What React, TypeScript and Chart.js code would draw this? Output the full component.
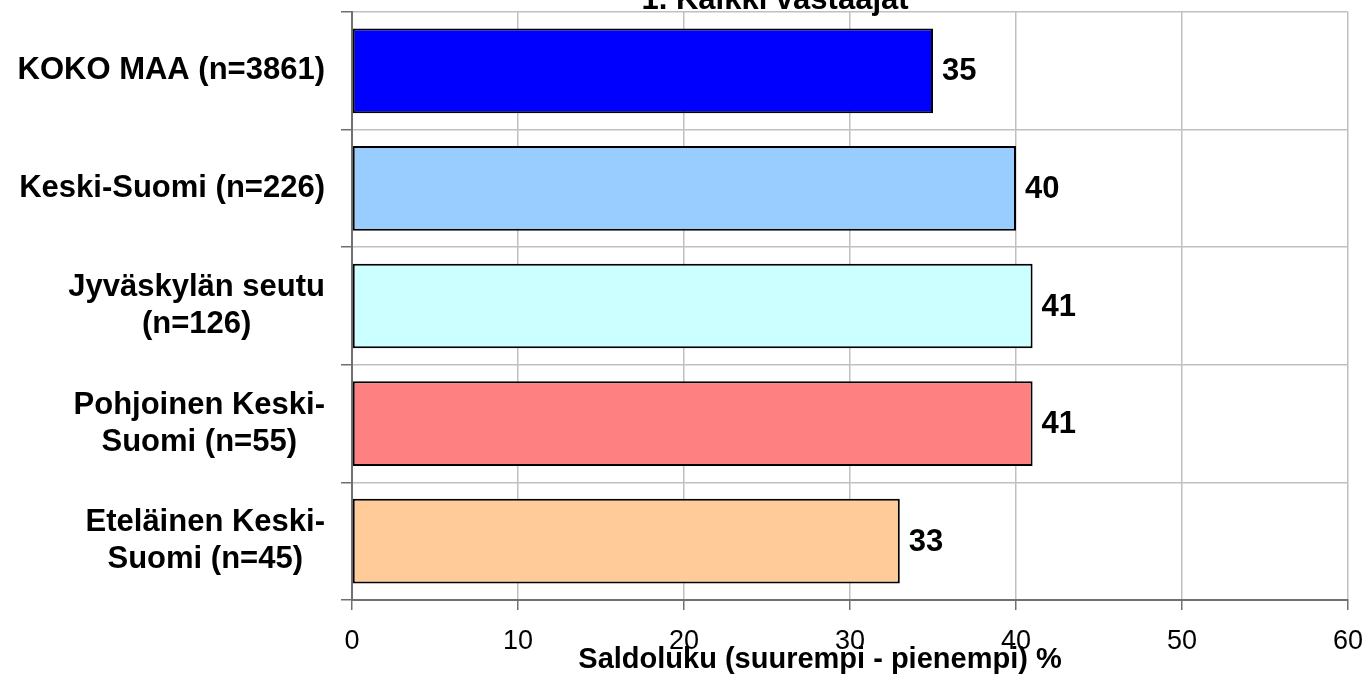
import React, { useEffect, useRef } from "react";
import { Chart, registerables } from "chart.js";

Chart.register(...registerables);

const categories: string[][] = [
  ["KOKO MAA (n=3861)"],
  ["Keski-Suomi (n=226)"],
  ["Jyväskylän seutu", "(n=126)"],
  ["Pohjoinen Keski-", "Suomi (n=55)"],
  ["Eteläinen Keski-", "Suomi (n=45)"],
];
const values: number[] = [35, 40, 41, 41, 33];
const barColors: string[] = ["#0000FF", "#99CCFF", "#CCFFFF", "#FF8080", "#FFCC99"];
const xTicks: number[] = [0, 10, 20, 30, 40, 50, 60];
const chartTitle = "1. Kaikki vastaajat";
const xAxisTitle = "Saldoluku (suurempi - pienempi) %";

const FONT = 'Arial, "Liberation Sans", sans-serif';

const overlayPlugin = {
  id: "overlay",
  afterDraw(chart: any) {
    const ctx = chart.ctx;
    const yScale = chart.scales.y;
    ctx.save();
    ctx.fillStyle = "#000";
    // chart title (partly cut off at top)
    ctx.font = `bold 31px ${FONT}`;
    ctx.textAlign = "center";
    ctx.textBaseline = "alphabetic";
    ctx.fillText(chartTitle, 775, 9);

    // category labels: block right-aligned, lines centered within block
    ctx.font = `bold 31px ${FONT}`;
    ctx.textBaseline = "middle";
    const lineH = 37;
    categories.forEach((lines, i) => {
      const cy = yScale.getPixelForValue(i);
      const widest = Math.max(...lines.map((l) => ctx.measureText(l).width));
      const cx = 325 - widest / 2;
      const startY = cy - ((lines.length - 1) * lineH) / 2;
      lines.forEach((l, j) => {
        ctx.textAlign = "center";
        ctx.fillText(l, cx, startY + j * lineH);
      });
    });

    // value labels
    ctx.font = `bold 31px ${FONT}`;
    const meta = chart.getDatasetMeta(0);
    ctx.textAlign = "left";
    ctx.textBaseline = "middle";
    meta.data.forEach((bar: any, i: number) => {
      ctx.fillText(String(values[i]), bar.x + 9, bar.y + 1);
    });

    // x axis title (overlapping tick labels)
    ctx.font = `bold 29px ${FONT}`;
    ctx.textAlign = "center";
    ctx.textBaseline = "alphabetic";
    ctx.fillText(xAxisTitle, 820, 668);
    ctx.restore();
  },
};

export default function App() {
  const ref = useRef<HTMLCanvasElement | null>(null);
  useEffect(() => {
    if (!ref.current) return;
    const chart = new Chart(ref.current, {
      type: "bar",
      data: {
        labels: categories.map((c) => c.join(" ")),
        datasets: [
          {
            data: values,
            backgroundColor: barColors,
            borderColor: "#000000",
            borderWidth: 2,
            borderSkipped: false,
            categoryPercentage: 1,
            barPercentage: 0.72,
          },
        ],
      },
      options: {
        indexAxis: "y",
        animation: false,
        responsive: false,
        maintainAspectRatio: false,
        devicePixelRatio: 1,
        layout: { padding: { top: 12, right: 0, left: 0, bottom: 0 } },
        plugins: {
          legend: { display: false },
          title: { display: false },
          tooltip: { enabled: false },
        },
        scales: {
          x: {
            type: "linear",
            min: 0,
            max: 60,
            afterBuildTicks: (scale: any) => {
              scale.ticks = xTicks.map((v) => ({ value: v }));
            },
            afterFit: (scale: any) => {
              scale.height = 85;
              scale.paddingLeft = 0;
              scale.paddingRight = 17;
            },
            ticks: {
              font: { family: FONT, size: 27 },
              color: "#000",
              padding: 15,
              maxRotation: 0,
            },
            grid: {
              color: "#C0C0C0",
              lineWidth: 1.5,
              tickColor: "#707070",
              tickLength: 10,
            },
            border: { color: "#707070", width: 2 },
          },
          y: {
            type: "category",
            offset: true,
            afterFit: (scale: any) => {
              scale.width = 352;
              scale.paddingTop = 0;
              scale.paddingBottom = 0;
            },
            ticks: {
              display: false,
            },
            grid: {
              offset: true,
              color: "#C0C0C0",
              lineWidth: 1.5,
              tickColor: "#707070",
              tickLength: 11,
            },
            border: { color: "#707070", width: 2 },
          },
        },
      },
      plugins: [overlayPlugin],
    });
    return () => chart.destroy();
  }, []);
  return (
    <div style={{ position: "fixed", left: 0, top: 0, width: 1365, height: 685, background: "#fff" }}>
      <canvas ref={ref} width={1365} height={685} style={{ width: 1365, height: 685, display: "block" }} />
    </div>
  );
}
